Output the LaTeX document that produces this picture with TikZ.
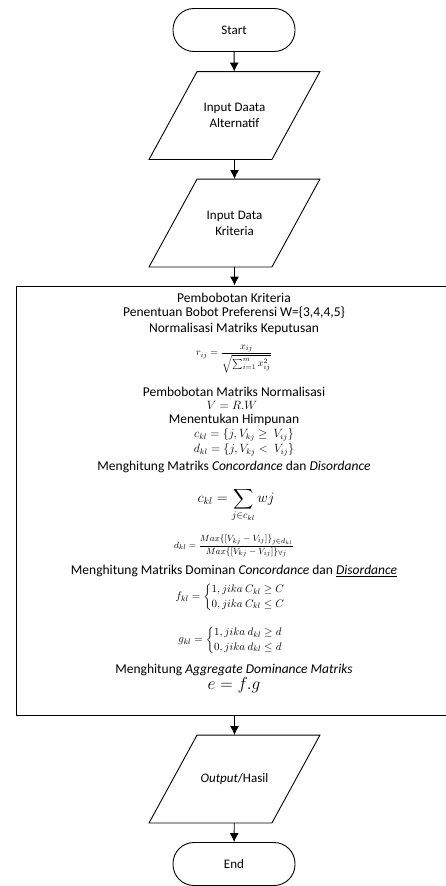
\documentclass[tikz,border=0pt]{standalone}
\usepackage{amsmath, amssymb}
\usepackage{fontspec}
\setmainfont{Carlito}
\usepackage{tikz}
\usetikzlibrary{shapes.geometric, arrows.meta, positioning}

\tikzset{
    terminal/.style={draw, rounded corners=21pt, minimum width=122pt, minimum height=43pt, font=\fontsize{13}{15}\selectfont},
    io/.style={minimum width=122pt, minimum height=87pt, align=center, font=\fontsize{13}{16}\selectfont},
    proses/.style={draw, minimum width=432pt, minimum height=429pt},
    teks/.style={inner sep=0pt, font=\fontsize{13.5}{15}\selectfont},
    rumus/.style={inner sep=0pt}
}

\begin{document}
\begin{tikzpicture}[>={Latex[length=9pt,width=9pt]}, x=1pt, y=-1pt, line width=0.9pt]
    \useasboundingbox (0,0) rectangle (446,886);
    % 1. Start dan input
    \node[terminal] (start) at (234,30) {Start};
    \node[io] (alt) at (234.5,115.5) {Input Daata\\Alternatif};
    \node[io] (krit) at (234.5,223) {Input Data\\Kriteria};

    % 2. Kotak proses ELECTRE
    \node[proses] (proses) at (232,500.5) {};
    \foreach \y/\t [count=\i] in {298/{Pembobotan Kriteria},
        313/{Penentuan Bobot Preferensi W=\{3,4,4,5\}},
        329/{Normalisasi Matriks Keputusan},
        392/{Pembobotan Matriks Normalisasi},
        420/{Menentukan Himpunan},
        467/{Menghitung Matriks \emph{Concordance} dan \emph{Disordance}},
        571/{Menghitung Matriks Dominan \emph{Concordance} dan \underline{\emph{Disordance}}},
        670/{Menghitung \emph{Aggregate Dominance Matriks}}} {
        \node[teks] (judul\i) at (234,\y) {\t};
    }
    \node[rumus, font=\fontsize{10}{11}\selectfont] (rumusR) at (234,359)
        {$r_{ij}=\dfrac{x_{ij}}{\sqrt{\sum_{i=1}^{m}x_{ij}^{2}}}$};
    \node[rumus, font=\fontsize{12}{14}\selectfont] (rumusV) at (232,405) {$V=R.W$};
    \node[rumus, font=\fontsize{12}{14}\selectfont] (rumusC) at (244,435) {$c_{kl}=\{j,V_{kj}\geq\ V_{ij}\}$};
    \node[rumus, font=\fontsize{12}{14}\selectfont] (rumusD) at (244,450) {$d_{kl}=\{j,V_{kj}<\ V_{ij}\}$};
    \node[rumus, font=\fontsize{14}{16}\selectfont] (rumusSum) at (236,505)
        {$\displaystyle c_{kl}=\sum_{j\in c_{kl}} wj$};
    \node[rumus, font=\fontsize{9.5}{10}\selectfont] (rumusDkl) at (234,546)
        {$d_{kl}=\dfrac{Max\{[V_{kj}-V_{ij}]\}_{j\in d_{kl}}}{Max\{[V_{kj}-V_{ij}]\}_{\forall j}}$};
    \node[rumus, font=\fontsize{11}{12}\selectfont] (rumusF) at (236,597)
        {$f_{kl}=\begin{cases}1, jika\ C_{kl}\geq C\\ 0, jika\ C_{kl}\leq C\end{cases}$};
    \node[rumus, font=\fontsize{11}{12}\selectfont] (rumusG) at (236,640)
        {$g_{kl}=\begin{cases}1, jika\ d_{kl}\geq d\\ 0, jika\ d_{kl}\leq d\end{cases}$};
    \node[rumus, font=\fontsize{16}{18}\selectfont] (rumusE) at (234,685) {$e=f.g$};

    % 3. Output dan end
    \node[io] (hasil) at (234.5,779) {\emph{Output}/Hasil};
    \node[terminal] (end) at (234,864) {End};

    % garis jajaran genjang input/output
    \foreach \n in {alt, krit, hasil} {
        \draw ([xshift=24pt]\n.north west) -- ([xshift=24pt]\n.north east)
            -- ([xshift=-24pt]\n.south east) -- ([xshift=-24pt]\n.south west) -- cycle;
    }

    % 4. Panah alur
    \draw[->] (start) -- (alt);
    \draw[->] (alt) -- (krit);
    \draw[->] (krit.south) -- (krit.south |- proses.north);
    \draw[->] (proses.south -| hasil.north) -- (hasil.north);
    \draw[->] (hasil) -- (end);
\end{tikzpicture}
\end{document}
